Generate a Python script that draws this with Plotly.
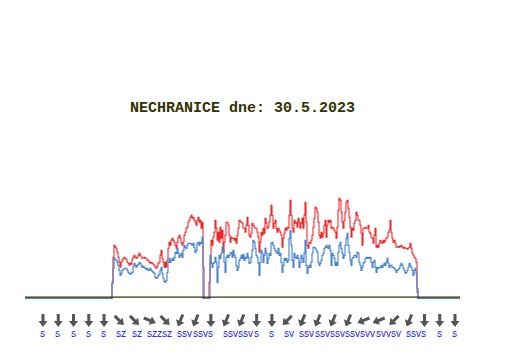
import plotly.graph_objects as go

# ---------------- data ----------------
TITLE = "NECHRANICE dne: 30.5.2023"

# sample index of the first non-zero sample (one sample per step of the time axis)
START = 87
N_SAMPLES = 435

# maximum (gust) wind speed, one value per sample from START
gust = [
    1.5, 4.1, 5.3, 5.1, 5.0, 4.6, 4.1, 3.6, 3.1,
    3.6, 3.8, 4.0, 4.1, 4.0, 3.9, 3.6, 3.5, 3.3, 3.5,
    3.4, 3.9, 4.1, 4.3, 4.1, 4.0, 4.1, 4.3, 4.5, 4.3,
    4.1, 4.0, 4.0, 4.1, 4.0, 4.0, 3.8, 3.8, 3.6, 3.5,
    3.6, 3.5, 3.4, 3.3, 3.1, 3.0, 3.2, 3.5, 3.6,
    4.3, 4.8, 4.0, 3.6, 3.1, 3.6, 3.1, 3.8, 5.0, 5.6,
    5.3, 5.8, 6.0, 5.8, 5.6, 5.3, 5.0, 5.6, 6.1, 6.3,
    6.0, 5.5, 5.3, 5.6, 6.3, 6.6, 7.0, 7.1, 7.6, 7.8,
    8.1, 8.3, 8.0, 8.1, 7.8, 7.6, 7.3, 7.8, 8.1, 7.6,
    7.8, 7.0, 7.6, 3.1, 0.0, 0.0, 0.0, 0.0, 0.0, 1.6,
    3.6, 5.8, 5.3, 6.1, 6.6,
    7.8, 7.0, 5.8, 6.6, 5.6, 7.1, 6.0, 6.8, 4.6, 5.6,
    6.3, 7.6, 7.6, 7.3, 6.3, 5.6, 6.1, 6.0, 6.0, 5.8,
    6.0, 5.5, 6.3, 7.0, 7.8, 7.7, 7.6, 7.5, 7.0, 7.0,
    6.6, 7.3, 8.1, 7.3, 6.3, 6.1, 6.5, 7.5, 7.3, 7.1,
    7.0, 7.0, 6.6, 6.1, 4.6, 5.6, 6.6, 6.3, 7.0, 6.5,
    8.0, 7.5, 7.0, 7.1, 7.6,
    8.3, 9.3, 8.3, 7.0, 7.5, 7.8, 7.0, 6.6, 7.0, 6.8,
    6.6, 6.3, 5.1, 6.0, 6.5, 7.0, 6.8, 7.1, 7.0, 8.3,
    9.8, 8.3, 7.0, 6.6, 7.8, 7.5, 7.6, 7.1, 8.0, 7.6,
    7.0, 7.5, 8.0, 7.0, 8.3, 9.6, 7.6, 5.3, 5.0, 5.6,
    5.5, 5.8, 6.3, 7.1, 8.0, 9.1, 9.0, 8.6, 7.6, 6.3,
    6.0, 6.6, 6.1, 6.5, 7.3,
    7.8, 6.1, 7.3, 7.8, 7.6, 7.8, 7.0, 7.1, 7.0, 6.8,
    6.6, 6.0, 7.1, 8.8, 10.0, 9.8, 8.6, 7.6, 7.0, 7.8,
    8.6, 9.6, 9.8, 9.0, 8.1, 7.1, 6.1, 7.0, 6.8, 7.5,
    7.8, 8.6, 8.3, 7.8, 7.8, 7.3, 6.5, 5.3, 7.0, 7.0,
    7.1, 7.0, 7.0, 7.3, 6.6, 6.5, 6.1, 6.0, 5.5, 6.3,
    7.0, 5.1, 5.3, 5.1, 5.5,
    5.8, 5.6, 5.5, 5.8, 5.6, 5.8, 6.0, 6.1, 6.6, 6.8,
    7.8, 6.6, 6.0, 5.6, 5.8, 5.5, 5.1, 5.1, 5.2, 5.1,
    5.2, 5.3, 5.1, 5.0, 5.1, 5.0, 5.0, 4.9, 5.0, 5.1,
    5.5, 5.0, 4.5, 4.3, 4.1, 4.0, 3.6, 1.0,
]

# average wind speed, one value per sample from START
avg = [
    1.6, 3.0, 4.0, 3.9, 3.8, 3.6, 3.3, 2.8, 2.3,
    2.5, 2.8, 2.9, 3.0, 3.0, 3.0, 2.8, 2.6, 2.5, 2.4,
    2.5, 2.6, 3.2, 3.5, 3.3, 3.1, 3.3, 3.4, 3.6, 3.5,
    3.3, 3.1, 3.2, 3.1, 3.0, 2.9, 3.0, 2.8, 2.8, 3.0,
    2.8, 2.7, 2.6, 2.5, 2.1, 2.0, 2.1, 2.3, 2.4,
    2.8, 3.1, 2.5, 2.0, 1.7, 1.6, 1.8, 2.6, 3.6, 4.0,
    3.6, 3.8, 4.0, 3.8, 4.1, 4.6, 4.5, 5.0, 4.5, 4.1,
    4.3, 4.5, 4.1, 4.8, 5.3, 5.1, 5.0, 5.3, 5.5, 5.5,
    5.5, 5.4, 5.3, 5.5, 5.1, 4.6, 4.8, 5.5, 5.6, 5.3,
    5.6, 5.5, 6.1, 0.0, 0.0, 0.0, 0.0, 0.0, 0.0, 0.0,
    4.3, 3.5, 3.1, 3.5, 3.6,
    4.1, 3.6, 1.6, 3.1, 4.3, 4.0, 4.5, 5.1, 4.8, 3.6,
    2.6, 4.1, 4.3, 4.1, 4.3, 4.5, 4.6, 4.1, 4.8, 4.3,
    4.1, 3.3, 2.8, 3.1, 3.8, 4.0, 4.3, 4.0, 4.4, 3.8,
    4.1, 4.0, 4.5, 4.1, 3.5, 3.6, 4.1, 4.8, 5.8, 5.6,
    5.0, 4.3, 4.1, 3.5, 2.3, 3.6, 4.8, 4.5, 3.6, 4.3,
    5.0, 4.5, 3.5, 4.0, 4.5,
    4.3, 5.5, 5.6, 5.3, 5.0, 4.8, 4.6, 4.5, 5.0, 4.3,
    4.5, 3.6, 2.6, 3.3, 4.0, 3.8, 4.0, 3.6, 3.8, 6.0,
    6.8, 5.3, 3.8, 3.1, 4.5, 4.1, 4.0, 4.3, 4.0, 3.1,
    3.6, 4.3, 4.0, 3.6, 4.5, 5.8, 3.3, 2.5, 3.1, 3.3,
    3.1, 3.6, 4.5, 5.1, 5.1, 5.0, 4.8, 4.6, 3.6, 3.3,
    3.5, 3.8, 4.3, 4.5, 5.0,
    5.1, 5.3, 5.1, 5.0, 5.3, 4.8, 3.3, 4.5, 4.3, 4.0,
    3.3, 3.6, 3.3, 4.6, 5.3, 5.6, 5.0, 4.5, 4.0, 4.3,
    5.3, 6.0, 6.5, 5.3, 4.6, 3.8, 3.3, 4.0, 4.1, 4.3,
    4.3, 4.1, 4.6, 4.5, 3.6, 3.3, 2.8, 3.1, 3.5, 3.6,
    4.0, 4.1, 4.0, 4.1, 4.0, 4.1, 3.6, 3.1, 3.6, 3.8,
    3.1, 2.6, 3.1, 3.0, 3.1,
    3.1, 3.3, 3.1, 3.3, 3.5, 3.3, 3.6, 4.0, 3.5, 3.1,
    3.3, 3.3, 3.1, 3.1, 3.0, 2.8, 2.6, 2.8, 2.9, 3.0,
    3.3, 3.5, 3.3, 3.0, 2.8, 2.5, 2.6, 2.8, 3.1, 3.5,
    3.3, 3.1, 2.8, 2.3, 2.8, 3.0, 2.5, 0.6,
]

# wind direction labels shown under the arrows (Czech abbreviations)
directions = [
    "S", "S", "S", "S", "S", "SZ", "SZ", "SZZ", "SZ", "SSV",
    "SSV", "S", "SSV", "SSV", "S", "S", "SV", "SSV", "SSV", "SSV",
    "SSV", "SVV", "SVV", "SV", "SSV", "S", "S", "S",
]

# ---------------- styling / geometry ----------------
RED = "#f22424"
BLUE = "#4a86d2"
DARK = "#333300"
ARROW = "#555555"

W, H = 532, 360
ML, MR, MT, MB = 25, 72, 130, 59
PW, PH = W - ML - MR, H - MT - MB
Y_MIN, Y_MAX = -0.27, 16.83

# vector (screen coords, y down) the arrow points to for each direction
vec = {
    "S": (0.0, 1.0),
    "SZ": (0.707, 0.707),
    "SZZ": (0.924, 0.383),
    "SSV": (-0.383, 0.924),
    "SV": (-0.707, 0.707),
    "SVV": (-0.924, 0.383),
}

n = len(avg)
x_data = [0] + [START - 1] + list(range(START, START + n)) + [START + n, N_SAMPLES]
avg_y = [0.0, 0.0] + avg + [0.0, 0.0]
gust_y = [0.0, 0.0] + gust + [0.0, 0.0]

fig = go.Figure()
fig.add_trace(go.Scatter(x=x_data, y=gust_y, mode="lines", line=dict(color=RED, width=1.05, shape="hv"),
                         hoverinfo="skip", showlegend=False))
fig.add_trace(go.Scatter(x=x_data, y=avg_y, mode="lines", line=dict(color=BLUE, width=1.15, shape="hv"),
                         hoverinfo="skip", showlegend=False))

# dark base line
fig.add_shape(type="line", xref="x", yref="y", x0=0, x1=N_SAMPLES, y0=0.11, y1=0.11,
              line=dict(color=DARK, width=1.3), layer="above")


def px_to_paper(px, py):
    return (px - ML) / PW, (H - MB - py) / PH


def to_paper_y(v):
    return (v - Y_MIN) / (Y_MAX - Y_MIN)


# arrows (drawn as filled polygons in paper space) + labels
first_px, last_px = 43.0, 455.0
step = (last_px - first_px) / (len(directions) - 1)
ARROW_CY = 320.5     # centre of arrow row, px
LABEL_Y = -3.57      # centre of the label row (axis units)
L, HEAD_L, SHAFT_W, HEAD_W = 13.0, 6.0, 3.0, 9.0
annotations = []
for k, d in enumerate(directions):
    cx = first_px + step * k
    ux, uy = vec[d]
    pxv, pyv = -uy, ux
    tail = (cx - ux * L / 2, ARROW_CY - uy * L / 2)
    tip = (cx + ux * L / 2, ARROW_CY + uy * L / 2)
    base = (tip[0] - ux * HEAD_L, tip[1] - uy * HEAD_L)
    pts = [
        (tail[0] + pxv * SHAFT_W / 2, tail[1] + pyv * SHAFT_W / 2),
        (base[0] + pxv * SHAFT_W / 2, base[1] + pyv * SHAFT_W / 2),
        (base[0] + pxv * HEAD_W / 2, base[1] + pyv * HEAD_W / 2),
        tip,
        (base[0] - pxv * HEAD_W / 2, base[1] - pyv * HEAD_W / 2),
        (base[0] - pxv * SHAFT_W / 2, base[1] - pyv * SHAFT_W / 2),
        (tail[0] - pxv * SHAFT_W / 2, tail[1] - pyv * SHAFT_W / 2),
    ]
    pp = [px_to_paper(a, b) for a, b in pts]
    path = "M " + " L ".join(f"{a:.5f},{b:.5f}" for a, b in pp) + " Z"
    fig.add_shape(type="path", xref="paper", yref="paper", path=path,
                  fillcolor=ARROW, line=dict(width=0), layer="above")

    lx = cx - 5 - ML  # x axis units equal pixels
    annotations.append(dict(
        x=lx, y=to_paper_y(LABEL_Y), xref="x", yref="paper", text=d, showarrow=False,
        xanchor="left", yanchor="middle",
        font=dict(family="Liberation Mono", size=8.3, color="#0000ff"),
    ))

fig.update_layout(
    width=W, height=H,
    margin=dict(l=ML, r=MR, t=MT, b=MB, pad=0),
    paper_bgcolor="white", plot_bgcolor="white",
    title=dict(text="<b>" + TITLE + "</b>", x=0.5, xref="paper", xanchor="center",
               y=1 - 107 / H, yref="container", yanchor="middle",
               font=dict(family="Liberation Mono", size=15, color=DARK)),
    xaxis=dict(range=[0, N_SAMPLES], showgrid=False, zeroline=False, showline=False,
               showticklabels=False, ticks="", fixedrange=True),
    yaxis=dict(range=[Y_MIN, Y_MAX], showgrid=False, zeroline=False, showline=False,
               showticklabels=False, ticks="", fixedrange=True),
    annotations=annotations,
    showlegend=False,
)

fig.write_html("out.html", config={"displayModeBar": False},
               post_script="document.body.style.margin='0';")
